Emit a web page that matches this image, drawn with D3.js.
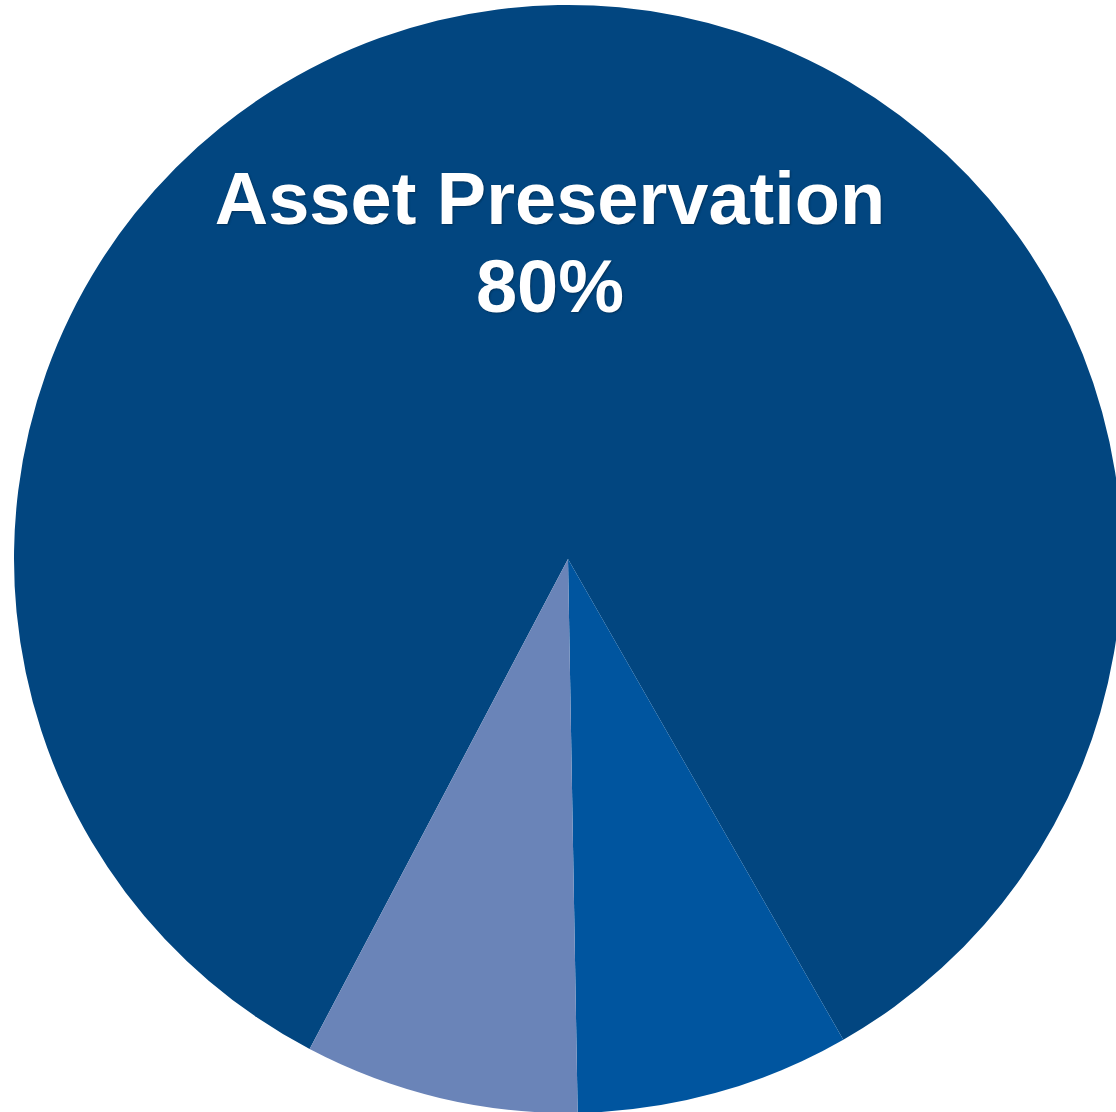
<!DOCTYPE html>
<html>
<head>
<meta charset="utf-8">
<script src="https://cdn.jsdelivr.net/npm/d3@7"></script>
<style>
  html, body { margin: 0; padding: 0; background: #ffffff; }
  svg { display: block; }
</style>
</head>
<body>
<div id="pie-chart"></div>
<script>
// Slice data, in drawing order (clockwise)
const categories = ["Asset Preservation", "Growth", "Income"];
const shares = [84, 8, 8];
const labelLines = [["Asset Preservation", "80%"], [], []];
const sliceColors = ["#024680", "#00559f", "#6a84b8"];

function createPieChart() {
    const width = 1116;
    const height = 1112;
    const cx = 568;
    const cy = 559;
    const radius = 554;

    const svg = d3.select("#pie-chart")
        .append("svg")
        .attr("width", width)
        .attr("height", height);

    const g = svg.append("g")
        .attr("transform", `translate(${cx}, ${cy})`);

    // First slice starts a bit past the bottom, on the left
    const start = 207.8 * Math.PI / 180;
    const pie = d3.pie()
        .sort(null)
        .value(d => d.value)
        .startAngle(start)
        .endAngle(start + 2 * Math.PI);

    const data = categories.map((c, i) => ({ name: c, value: shares[i], lines: labelLines[i], color: sliceColors[i] }));
    const arcs = pie(data);

    const arc = d3.arc().innerRadius(0).outerRadius(radius);

    g.selectAll("path.slice")
        .data(arcs)
        .join("path")
        .attr("class", "slice")
        .attr("d", arc)
        .attr("fill", d => d.data.color);

    // Label for the big slice
    const labelArc = d3.arc().innerRadius(radius * 0.52).outerRadius(radius * 0.52);
    const fontSize = 74;
    const lineGap = 88;

    arcs.forEach(a => {
        if (!a.data.lines.length) return;
        const [lx, ly] = labelArc.centroid(a);
        const text = g.append("text")
            .attr("text-anchor", "middle")
            .attr("font-family", "'Liberation Sans', Arial, sans-serif")
            .attr("font-weight", "bold")
            .attr("font-size", fontSize)
            .attr("fill", "#ffffff")
            .style("text-shadow", "1px 1px 2px rgba(0,0,0,0.3)");
        a.data.lines.forEach((line, i) => {
            text.append("tspan")
                .attr("x", lx - 13)
                .attr("y", ly - 47 + i * lineGap)
                .text(line);
        });
    });
}

createPieChart();
</script>
</body>
</html>
